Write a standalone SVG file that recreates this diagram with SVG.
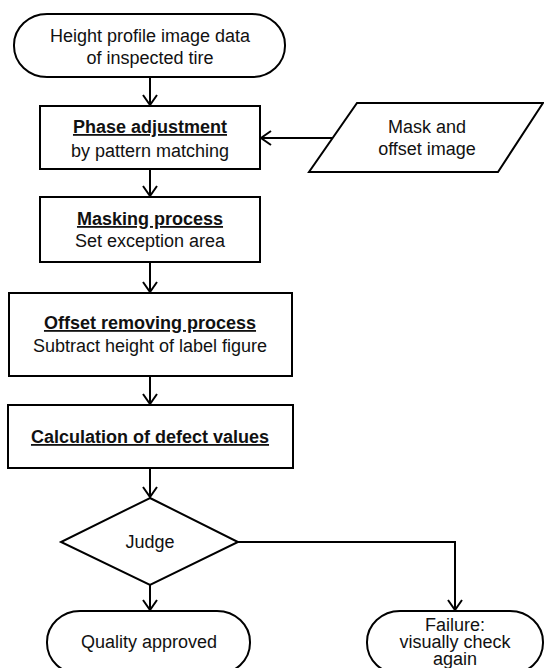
<svg xmlns="http://www.w3.org/2000/svg" width="544" height="668" viewBox="0 0 544 668">
<style>
.s{fill:#fff;stroke:#000;stroke-width:2}
.t{font-family:"Liberation Sans",Arial,sans-serif;font-size:18px;fill:#111;text-anchor:middle}
.b{font-weight:bold;text-decoration:underline}
.c{fill:none;stroke:#000;stroke-width:2}
</style>
<defs>
<marker id="ah" markerWidth="16" markerHeight="16" viewBox="-12 -8 14 16" refX="0" refY="0" orient="auto" markerUnits="userSpaceOnUse">
<polyline points="-10,-7 0,0 -10,7" fill="none" stroke="#000" stroke-width="2"/>
</marker>
</defs>
<rect width="544" height="668" fill="#fff"/>
<g id="connectors">
<line class="c" x1="150" y1="77" x2="150" y2="105" marker-end="url(#ah)"/>
<line class="c" x1="150" y1="169" x2="150" y2="196" marker-end="url(#ah)"/>
<line class="c" x1="150" y1="262" x2="150" y2="292" marker-end="url(#ah)"/>
<line class="c" x1="150" y1="376" x2="150" y2="404" marker-end="url(#ah)"/>
<line class="c" x1="150" y1="468" x2="150" y2="497" marker-end="url(#ah)"/>
<line class="c" x1="150" y1="585" x2="150" y2="610" marker-end="url(#ah)"/>
<polyline class="c" points="238,542 455,542 455,610" marker-end="url(#ah)"/>
<line class="c" x1="333" y1="138" x2="261" y2="138" marker-end="url(#ah)"/>
</g>
<g id="start">
<rect class="s" x="14" y="14" width="271" height="63" rx="33" ry="31"/>
<text class="t" x="150" y="42">Height profile image data</text>
<text class="t" x="150" y="64">of inspected tire</text>
</g>
<g id="phase">
<rect class="s" x="40" y="106" width="220" height="63"/>
<text class="t b" x="150" y="133">Phase adjustment</text>
<text class="t" x="150" y="157">by pattern matching</text>
</g>
<g id="mask-input">
<polygon class="s" points="357,103 543,103 498,172 309,172"/>
<text class="t" x="427" y="133">Mask and</text>
<text class="t" x="427" y="155">offset image</text>
</g>
<g id="masking">
<rect class="s" x="40" y="197" width="220" height="65"/>
<text class="t b" x="150" y="225">Masking process</text>
<text class="t" x="150" y="247">Set exception area</text>
</g>
<g id="offset">
<rect class="s" x="9" y="293" width="283" height="83"/>
<text class="t b" x="150" y="329">Offset removing process</text>
<text class="t" x="150" y="352">Subtract height of label figure</text>
</g>
<g id="calc">
<rect class="s" x="8" y="405" width="285" height="63"/>
<text class="t b" x="150" y="443">Calculation of defect values</text>
</g>
<g id="judge">
<polygon class="s" points="150,498 238,542 150,585 61,542"/>
<text class="t" x="150" y="548">Judge</text>
</g>
<g id="approved">
<rect class="s" x="47" y="611" width="203" height="63" rx="33" ry="31"/>
<text class="t" x="149" y="648">Quality approved</text>
</g>
<g id="failure">
<rect class="s" x="367" y="611" width="176" height="63" rx="33" ry="31"/>
<text class="t" x="455" y="631">Failure:</text>
<text class="t" x="455" y="648">visually check</text>
<text class="t" x="455" y="665">again</text>
</g>
</svg>
